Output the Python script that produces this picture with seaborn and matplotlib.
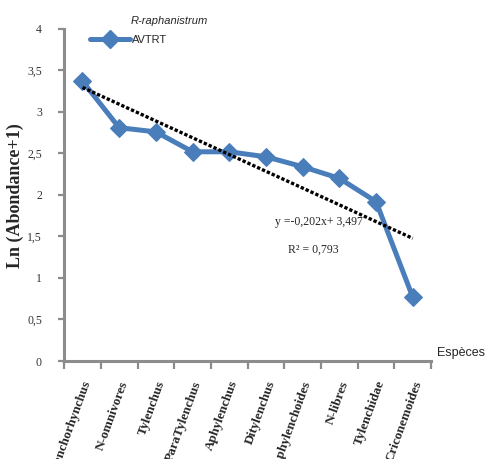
import matplotlib
matplotlib.use("Agg")
import matplotlib.pyplot as plt
import seaborn as sns
import numpy as np
import pandas as pd
from matplotlib.lines import Line2D
from matplotlib.ticker import FixedLocator, FuncFormatter

categories = ["Tylenchorhynchus", "N-omnivores", "Tylenchus", "ParaTylenchus",
              "Aphylenchus", "Ditylenchus", "Aphylenchoides", "N-libres",
              "Tylenchidae", "Criconemoides"]
values = [3.37, 2.81, 2.76, 2.52, 2.52, 2.46, 2.34, 2.20, 1.92, 0.77]
trend_slope = -0.202
trend_intercept = 3.497
r_squared = 0.793
series_name = "AVTRT"
legend_title = "R-raphanistrum"
y_ticks = [0, 0.5, 1, 1.5, 2, 2.5, 3, 3.5, 4]

sns.set_style("white")
plt.rcParams['font.family'] = ['DejaVu Sans']

blue = "#4A7EBB"
gray = "#8C8C8C"

fig = plt.figure(figsize=(4.86, 4.59), dpi=100)
ax = fig.add_axes([0.132, 0.2135, 0.755, 0.7235])

x = np.arange(1, len(categories) + 1)
df = pd.DataFrame({"x": x, "y": values})
sns.lineplot(data=df, x="x", y="y", ax=ax, color=blue, lw=3.6,
             marker="D", markersize=9, markeredgecolor=blue, markerfacecolor=blue)

xt = np.array([1, len(categories)])
ax.plot(xt, trend_slope * xt + trend_intercept, color="black", lw=2.4,
        linestyle=(0, (1, 0.6)), zorder=4)

ax.set_xlim(0.5, len(categories) + 0.5)
ax.set_ylim(0, 4)
ax.set_xlabel("")
ax.set_ylabel("")

for s in ["top", "right"]:
    ax.spines[s].set_visible(False)
for s in ["left", "bottom"]:
    ax.spines[s].set_color(gray)
    ax.spines[s].set_linewidth(2.2)

ax.yaxis.set_major_locator(FixedLocator(y_ticks))
ax.yaxis.set_major_formatter(FuncFormatter(lambda v, p: (f"{v:g}").replace(".", ",")))
ax.tick_params(axis="y", direction="out", length=4, width=1.6, color=gray, pad=12,
               labelsize=8.5, labelcolor="#333333", left=True)
for t in ax.get_yticklabels():
    t.set_fontfamily("Liberation Serif")

ax.set_xticks(x)
ax.set_xticklabels(categories, rotation=70, ha="right", va="top",
                   rotation_mode="anchor", fontfamily="Liberation Serif",
                   fontweight="bold", fontsize=9.5)
ax.tick_params(axis="x", which="major", length=0, pad=13)
ax.set_xticks(np.arange(0.5, len(categories) + 1), minor=True)
ax.tick_params(axis="x", which="minor", direction="out", length=6, width=1.6,
               color=gray, bottom=True)

fig.text(0.031, 0.573, "Ln (Abondance+1)", rotation=90, ha="center", va="center",
         fontfamily="Liberation Serif", fontweight="bold", fontsize=13)

ax.text(6.25, 1.67, f"y =-{abs(trend_slope):.3f}x+ {trend_intercept:.3f}".replace(".", ","),
        fontfamily="Liberation Serif", fontsize=8.5, ha="left", va="center")
ax.text(6.6, 1.34, f"R² = {r_squared:.3f}".replace(".", ","),
        fontfamily="Liberation Serif", fontsize=8.5, ha="left", va="center")

fig.text(0.268, 0.955, legend_title, fontfamily="Liberation Sans", fontstyle="italic",
         fontsize=8, ha="left", va="center")
h = Line2D([], [], color=blue, lw=3.6, marker="D", markersize=9)
leg = ax.legend([h], [series_name], loc="center left", bbox_to_anchor=(0.186, 0.913),
                bbox_transform=fig.transFigure, frameon=False, handlelength=3.6,
                handletextpad=0.1, borderpad=0, borderaxespad=0,
                prop={"family": "Liberation Sans", "size": 8})

fig.text(0.90, 0.232, "Espèces", fontfamily="Liberation Sans", fontsize=9,
         ha="left", va="center")

fig.savefig("out.png", dpi=100)
